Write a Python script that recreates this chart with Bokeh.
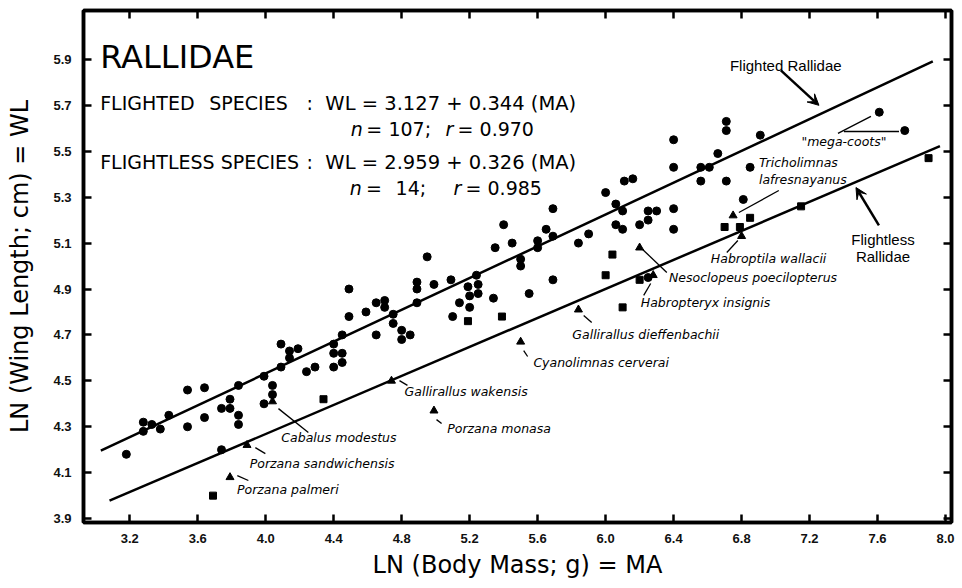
from bokeh.plotting import figure
from bokeh.models import (Range1d, LinearAxis, FixedTicker, NumeralTickFormatter,
                          CustomJSTickFormatter, Arrow, VeeHead, Label, ColumnDataSource)
from bokeh.core.properties import value
from bokeh.embed import file_html
from bokeh.resources import INLINE

# ---------------- data ----------------
x_ticks = [3.2, 3.6, 4.0, 4.4, 4.8, 5.2, 5.6, 6.0, 6.4, 6.8, 7.2, 7.6, 8.0]
y_ticks = [3.9, 4.1, 4.3, 4.5, 4.7, 4.9, 5.1, 5.3, 5.5, 5.7, 5.9]

# flighted species (circles)
flighted_ma = [3.18, 3.28, 3.28, 3.33, 3.38, 3.43, 3.54, 3.54, 3.64, 3.64,
               3.74, 3.74, 3.79, 3.79, 3.84, 3.84, 3.84, 3.99, 3.99, 4.04,
               4.04, 4.09, 4.09, 4.14, 4.14, 4.19, 4.24, 4.29, 4.40, 4.40,
               4.40, 4.45, 4.45, 4.45, 4.49, 4.49, 4.59, 4.65, 4.65, 4.70,
               4.70, 4.75, 4.75, 4.80, 4.80, 4.85, 4.89, 4.89, 4.89, 4.95,
               4.99, 5.09, 5.10, 5.14, 5.19, 5.20, 5.20, 5.24, 5.25, 5.25,
               5.34, 5.35, 5.40, 5.45, 5.50, 5.50, 5.55, 5.60, 5.60, 5.65,
               5.69, 5.69, 5.69, 5.84, 5.90, 6.00, 6.06, 6.06, 6.11, 6.10,
               6.10, 6.16, 6.20, 6.25, 6.25, 6.30, 6.25, 6.40, 6.40, 6.40,
               6.40, 6.56, 6.61, 6.56, 6.66, 6.71, 6.71, 6.71, 6.81, 6.85,
               6.91, 7.61, 7.76]
flighted_wl = [4.18, 4.32, 4.28, 4.31, 4.29, 4.35, 4.46, 4.30, 4.47, 4.34,
               4.38, 4.20, 4.42, 4.38, 4.48, 4.35, 4.31, 4.52, 4.40, 4.48,
               4.44, 4.66, 4.56, 4.63, 4.60, 4.64, 4.54, 4.56, 4.66, 4.62,
               4.56, 4.70, 4.62, 4.58, 4.78, 4.90, 4.80, 4.84, 4.70, 4.85,
               4.82, 4.79, 4.75, 4.72, 4.68, 4.70, 4.93, 4.90, 4.84, 5.04,
               4.92, 4.94, 4.78, 4.84, 4.91, 4.87, 4.82, 4.96, 4.92, 4.88,
               4.86, 5.08, 5.18, 5.10, 5.03, 5.00, 4.88, 5.11, 5.08, 5.16,
               5.25, 5.13, 4.94, 5.10, 5.14, 5.32, 5.27, 5.18, 5.37, 5.24,
               5.16, 5.38, 5.18, 5.24, 5.20, 5.24, 4.95, 5.55, 5.43, 5.25,
               5.16, 5.43, 5.43, 5.37, 5.49, 5.63, 5.59, 5.37, 5.29, 5.43,
               5.57, 5.67, 5.59]

# squares
square_ma = [3.69, 4.34, 5.19, 5.39, 6.00, 6.04, 6.10, 6.20, 6.70, 6.79, 6.85, 7.15, 7.90]
square_wl = [4.00, 4.42, 4.76, 4.78, 4.96, 5.05, 4.82, 4.94, 5.17, 5.17, 5.21, 5.26, 5.47]

# flightless species (triangles)
flightless_ma = [3.79, 3.89, 4.04, 4.74, 4.99, 5.50, 5.84, 6.20, 6.28, 6.75, 6.80]
flightless_wl = [4.08, 4.22, 4.41, 4.50, 4.37, 4.67, 4.81, 5.08, 4.96, 5.22, 5.13]

# regression lines as drawn (end points)
flighted_fit_ma = [3.03, 7.925]
flighted_fit_wl = [4.196, 5.891]
flightless_fit_ma = [3.081, 7.967]
flightless_fit_wl = [3.978, 5.522]

# ---------------- figure ----------------
p = figure(width=962, height=588,
           x_range=Range1d(2.928, 8.035), y_range=Range1d(3.883, 6.113),
           output_backend="svg", toolbar_location=None,
           min_border_left=83, min_border_right=11,
           min_border_top=10, min_border_bottom=66,
           background_fill_color="white", border_fill_color="white")
p.xgrid.visible = False
p.ygrid.visible = False
p.outline_line_color = "black"
p.outline_line_width = 3.5

TICK_FONT = "Liberation Sans"

def style_axis(ax, ticks, show_labels):
    ax.ticker = FixedTicker(ticks=ticks)
    ax.axis_line_width = 3.5
    ax.axis_line_color = "black"
    ax.major_tick_in = 8
    ax.major_tick_out = 0
    ax.major_tick_line_width = 2.5
    ax.minor_tick_line_color = None
    if show_labels:
        ax.formatter = NumeralTickFormatter(format="0.0")
        ax.major_label_text_font = TICK_FONT
        ax.major_label_text_font_size = "13px"
        ax.major_label_text_font_style = "bold"
        ax.major_label_text_color = "#111111"
    else:
        ax.formatter = CustomJSTickFormatter(code="return ''")
        ax.major_label_standoff = 0

xa = p.xaxis[0]
ya = p.yaxis[0]
style_axis(xa, x_ticks, True)
style_axis(ya, y_ticks, True)
xa.major_label_standoff = 11
ya.major_label_standoff = 12
xa.axis_label = "LN (Body Mass; g) = MA"
ya.axis_label = "LN (Wing Length; cm) = WL"
for ax in (xa, ya):
    ax.axis_label_text_font = "DejaVu Sans"
    ax.axis_label_text_font_size = "24px"
    ax.axis_label_text_font_style = "normal"
    ax.axis_label_text_color = "black"
xa.axis_label_standoff = 5
ya.axis_label_standoff = 16

top = LinearAxis()
style_axis(top, x_ticks, False)
p.add_layout(top, "above")
right = LinearAxis()
style_axis(right, y_ticks, False)
p.add_layout(right, "right")

# regression lines
p.line(flighted_fit_ma, flighted_fit_wl, line_width=2.5, color="black")
p.line(flightless_fit_ma, flightless_fit_wl, line_width=2.5, color="black")

# points
p.scatter(flighted_ma, flighted_wl, marker="circle", size=8, color="black")
p.scatter(square_ma, square_wl, marker="square", size=7, color="black")
p.scatter(flightless_ma, flightless_wl, marker="triangle", size=8, color="black")

# ---------------- texts ----------------
def put(text, x, y, size, font="DejaVu Sans", style="normal", align="left", baseline="alphabetic"):
    p.add_layout(Label(x=x, y=y, text=text, text_font=font, text_font_size=size,
                       text_font_style=style, text_align=align, text_baseline=baseline,
                       text_color="black"))

put("RALLIDAE", 3.026, 5.909, "32px")
put("FLIGHTED", 3.026, 5.708, "19px")
put("SPECIES", 3.668, 5.708, "19px")
put(":", 4.240, 5.708, "19px")
put("WL = 3.127 + 0.344 (MA)", 4.351, 5.708, "19.5px")
put("n", 4.500, 5.599, "19px", style="italic")
put("=", 4.592, 5.599, "19px")
put("107;", 4.722, 5.599, "19px")
put("r", 5.058, 5.599, "19px", style="italic")
put("= 0.970", 5.129, 5.599, "19px")
put("FLIGHTLESS SPECIES", 3.026, 5.451, "19px")
put(":", 4.240, 5.451, "19px")
put("WL = 2.959 + 0.326 (MA)", 4.351, 5.451, "19.5px")
put("n", 4.495, 5.338, "19px", style="italic")
put("=", 4.590, 5.338, "19px")
put("14;", 4.764, 5.338, "19px")
put("r", 5.105, 5.338, "19px", style="italic")
put("= 0.985", 5.176, 5.338, "19px")

put("Flighted Rallidae", 7.06, 5.874, "15px", font="Liberation Sans", align="center", baseline="middle")
put("Flightless", 7.632, 5.116, "15px", font="Liberation Sans", align="center", baseline="middle")
put("Rallidae", 7.632, 5.042, "15px", font="Liberation Sans", align="center", baseline="middle")

# arrows
for xs, ys, xe, ye in [(7.031, 5.852, 7.255, 5.700), (7.608, 5.177, 7.473, 5.342)]:
    p.add_layout(Arrow(end=VeeHead(size=11, fill_color="black", line_color="black", line_width=1),
                       x_start=xs, y_start=ys, x_end=xe, y_end=ye,
                       line_width=2.5, line_color="black"))

# species labels
lab = ColumnDataSource(dict(
    x=[7.402, 6.902, 6.902, 6.619, 6.373, 6.207, 5.804, 5.575, 4.817, 5.068, 4.092, 3.906, 3.831],
    y=[5.543, 5.451, 5.376, 5.032, 4.949, 4.842, 4.702, 4.581, 4.455, 4.291, 4.252, 4.141, 4.025],
    text=['"mega-coots"', "Tricholimnas", "lafresnayanus", "Habroptila wallacii",
          "Nesoclopeus poecilopterus", "Habropteryx insignis", "Gallirallus dieffenbachii",
          "Cyanolimnas cerverai", "Gallirallus wakensis", "Porzana monasa",
          "Cabalus modestus", "Porzana sandwichensis", "Porzana palmeri"],
    align=["center"] + ["left"] * 12,
))
p.text(x="x", y="y", text="text", source=lab, text_font=value("DejaVu Sans"),
       text_font_size=value("12.5px"), text_font_style="italic", text_align="align",
       text_baseline="middle", text_color="black")

# leader lines
seg = ColumnDataSource(dict(
    x0=[7.367, 7.402, 6.784, 6.713, 6.218, 6.224, 5.871, 5.518, 4.787, 5.005, 4.075, 3.939, 3.833],
    y0=[5.578, 5.586, 5.233, 5.059, 5.072, 4.872, 4.785, 4.632, 4.501, 4.331, 4.379, 4.209, 4.087],
    x1=[7.561, 7.726, 7.019, 6.778, 6.360, 6.265, 5.918, 5.541, 4.834, 5.035, 4.251, 3.998, 3.898],
    y1=[5.652, 5.586, 5.329, 5.111, 4.972, 4.924, 4.754, 4.606, 4.480, 4.314, 4.275, 4.183, 4.066],
))
p.segment(x0="x0", y0="y0", x1="x1", y1="y1", source=seg, line_width=1.3, color="black")

open("out.html", "w").write(file_html(p, INLINE))
